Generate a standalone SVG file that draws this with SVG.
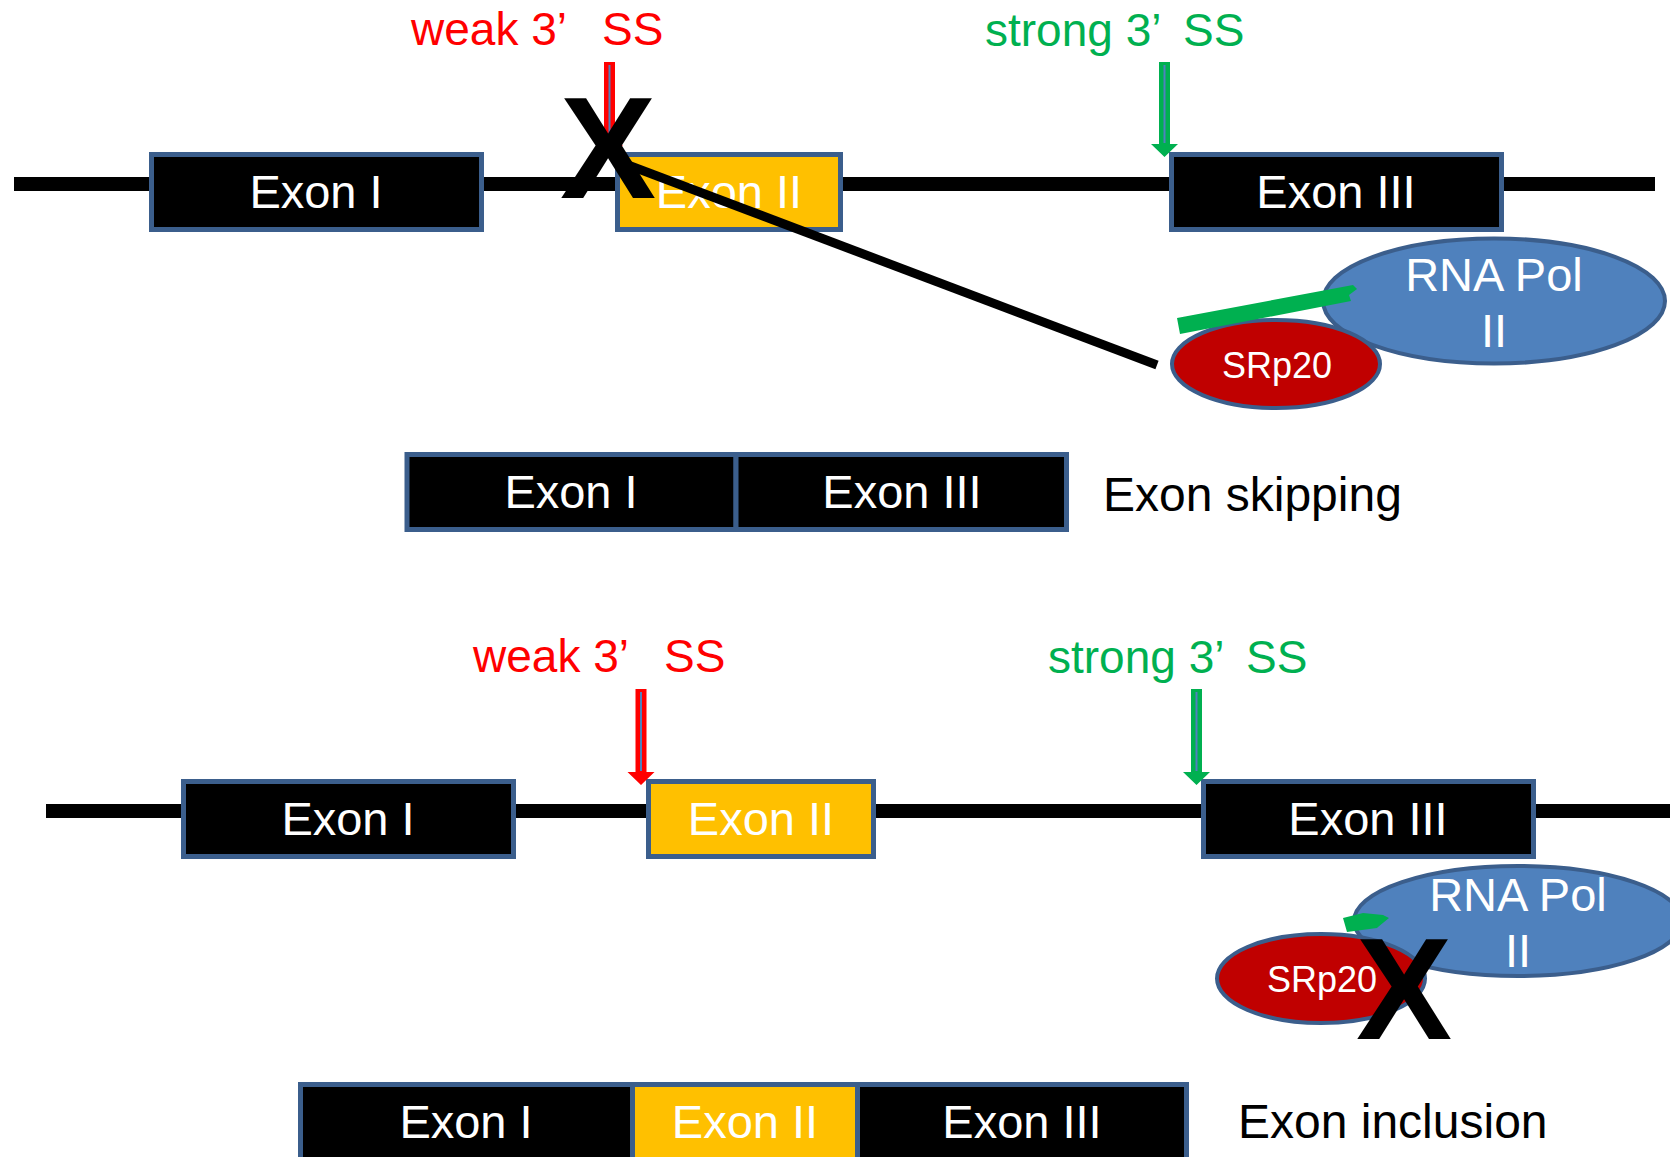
<svg xmlns="http://www.w3.org/2000/svg" width="1670" height="1157" viewBox="0 0 1670 1157">
<style>
text{font-family:"Liberation Sans",Arial,sans-serif}
.box{stroke:#3B5E8C;stroke-width:5}
.blk{fill:#000}
.yel{fill:#FFC000}
.et{fill:#fff;font-size:47px;text-anchor:middle}
.lbl{fill:#000;font-size:48px}
.red{fill:#FF0000;font-size:46px}
.grn{fill:#00B050;font-size:46px}
.pol{fill:#4F81BD;stroke:#3B5E8C;stroke-width:4}
.sr{fill:#C00000;stroke:#3B5E8C;stroke-width:4}
.pt{fill:#fff;font-size:47px;text-anchor:middle}
.st{fill:#fff;font-size:36px;text-anchor:middle}
.bigx{fill:#000;font-size:144px;font-weight:bold;text-anchor:middle}
.gbar{fill:#00B050}
.ra{fill:#FF0000}
.ga{fill:#00B050}
.inner{stroke:#4F81BD;stroke-width:2}
</style>

<!-- genomic lines -->
<g id="top-line"><rect x="14" y="177" width="1641" height="14" fill="#000"/></g>
<g id="bottom-line"><rect x="46" y="804" width="1624" height="14" fill="#000"/></g>

<!-- top row exons -->
<g id="top-exon1"><rect class="box blk" x="151.5" y="154.5" width="330" height="75"/><text class="et" x="316" y="208">Exon I</text></g>
<g id="top-exon2"><rect class="box yel" x="617.5" y="154.5" width="223" height="75"/><text class="et" x="729" y="208">Exon II</text></g>
<g id="top-exon3"><rect class="box blk" x="1171.5" y="154.5" width="330" height="75"/><text class="et" x="1336" y="208">Exon III</text></g>

<!-- top labels -->
<g id="top-weak"><text class="red" x="411" y="45">weak 3’ <tspan x="602">SS</tspan></text></g>
<g id="top-strong"><text class="grn" x="985" y="46">strong 3’ <tspan x="1183">SS</tspan></text></g>

<!-- top RNA Pol II and SRp20 -->
<g id="top-rnapol"><ellipse class="pol" cx="1494" cy="301" rx="171" ry="62.5"/><text class="pt" x="1494" y="291">RNA Pol</text><text class="pt" x="1494" y="347">II</text></g>
<g id="top-srp20"><ellipse class="sr" cx="1276" cy="364" rx="104" ry="44"/><text class="st" x="1277" y="378">SRp20</text></g>
<g id="top-rna"><polygon class="gbar" points="1177,318 1353,285 1357,289 1349,295 1351,301 1180,334"/></g>

<!-- bottom row exons -->
<g id="bot-exon1"><rect class="box blk" x="183.5" y="781.5" width="330" height="75"/><text class="et" x="348" y="835">Exon I</text></g>
<g id="bot-exon2"><rect class="box yel" x="648.5" y="781.5" width="225" height="75"/><text class="et" x="761" y="835">Exon II</text></g>
<g id="bot-exon3"><rect class="box blk" x="1203.5" y="781.5" width="330" height="75"/><text class="et" x="1368" y="835">Exon III</text></g>

<g id="bot-weak"><text class="red" x="473" y="672">weak 3’ <tspan x="664">SS</tspan></text></g>
<g id="bot-strong"><text class="grn" x="1048" y="673">strong 3’ <tspan x="1246">SS</tspan></text></g>

<g id="bot-rnapol"><ellipse class="pol" cx="1518" cy="921" rx="164" ry="55"/><text class="pt" x="1518" y="911">RNA Pol</text><text class="pt" x="1518" y="967">II</text></g>
<g id="bot-rna"><polygon class="gbar" points="1343,918 1363,913 1383,915 1389,918 1378,927 1377,928 1347,932"/></g>
<g id="bot-srp20"><ellipse class="sr" cx="1321" cy="978.5" rx="104" ry="44.5"/><text class="st" x="1322" y="992">SRp20</text></g>

<!-- result rows -->
<g id="skip-exon1"><rect class="box blk" x="407" y="454.5" width="329" height="75"/><text class="et" x="571" y="508">Exon I</text></g>
<g id="skip-exon3"><rect class="box blk" x="736" y="454.5" width="330.5" height="75"/><text class="et" x="902" y="508">Exon III</text></g>
<g id="skip-label"><text class="lbl" x="1103" y="511">Exon skipping</text></g>

<g id="inc-exon1"><rect class="box blk" x="300.5" y="1084.5" width="332" height="75"/><text class="et" x="466" y="1138">Exon I</text></g>
<g id="inc-exon2"><rect class="box yel" x="632.5" y="1084.5" width="225" height="75"/><text class="et" x="745" y="1138">Exon II</text></g>
<g id="inc-exon3"><rect class="box blk" x="857.5" y="1084.5" width="329" height="75"/><text class="et" x="1022" y="1138">Exon III</text></g>
<g id="inc-label"><text class="lbl" x="1238" y="1138">Exon inclusion</text></g>

<!-- connectors: splice site arrows, inhibition line, X marks -->
<g id="connectors">
  <polygon class="ra" points="604,62 615,62 615,145 623,145 609.5,158 596,145 604,145"/>
  <line class="inner" x1="609.5" y1="65" x2="609.5" y2="144"/>
  <polygon class="ga" points="1159,62 1170,62 1170,144 1178,144 1164.5,157 1151,144 1159,144"/>
  <line class="inner" x1="1164.5" y1="65" x2="1164.5" y2="143"/>
  <polygon class="ra" points="635.5,689 646.5,689 646.5,772 654.5,772 641,785 627.5,772 635.5,772"/>
  <line class="inner" x1="641" y1="692" x2="641" y2="771"/>
  <polygon class="ga" points="1191,689 1202,689 1202,772 1210,772 1196.5,785 1183,772 1191,772"/>
  <line class="inner" x1="1196.5" y1="692" x2="1196.5" y2="771"/>
  <line x1="628" y1="165" x2="1157" y2="365" stroke="#000" stroke-width="9"/>
  <text class="bigx" x="608" y="198">X</text>
  <text class="bigx" x="1404" y="1039">X</text>
</g>
</svg>
